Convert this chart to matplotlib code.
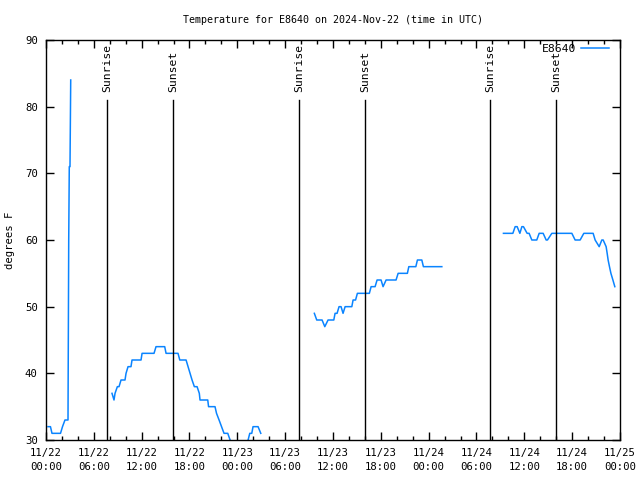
import numpy as np
import pandas as pd
import matplotlib
matplotlib.use("Agg")
import matplotlib.pyplot as plt
import matplotlib.dates as mdates

plt.rcParams['font.family'] = ['DejaVu Sans Mono']
plt.rcParams['font.size'] = 7.7

# hours since 2024-11-22 00:00 UTC, temperatures in F
seg1_h = [0.25, 0.56, 0.75, 1.82, 2.07, 2.38, 2.76, 2.85, 2.92, 3.01, 3.10]
seg1_t = [32, 32, 31, 31, 32, 33, 33, 60, 71, 71, 84]

seg2_h = [8.28, 8.53, 8.66, 8.95, 9.16, 9.41, 9.91, 10.04, 10.29, 10.66, 10.79,
          11.92, 12.05, 13.55, 13.80, 14.89, 15.06, 16.56, 16.78, 17.57, 17.82,
          18.07, 18.32, 18.61, 18.95, 19.23, 19.32, 20.29, 20.39, 21.20, 21.39,
          21.71, 22.02, 22.33, 22.80, 23.09, 23.71, 24.84, 25.35, 25.56, 25.81,
          25.97, 26.60, 26.94]
seg2_t = [37, 36, 37, 38, 38, 39, 39, 40, 41, 41, 42,
          42, 43, 43, 44, 44, 43, 43, 42, 42, 41,
          40, 39, 38, 38, 37, 36, 36, 35, 35, 34,
          33, 32, 31, 31, 30, 29, 29, 30, 31, 31,
          32, 32, 31]

seg3_h = [33.66, 33.96, 34.63, 34.97, 35.38, 36.10, 36.26, 36.51, 36.76, 37.01,
          37.26, 37.52, 38.36, 38.52, 38.83, 39.06, 40.56, 40.78, 41.28, 41.53,
          42.03, 42.28, 42.66, 43.91, 44.17, 45.33, 45.51, 46.39, 46.59, 47.14,
          47.34, 49.65]
seg3_t = [49, 48, 48, 47, 48, 48, 49, 49, 50, 50,
          49, 50, 50, 51, 51, 52, 52, 53, 53, 54,
          54, 53, 54, 54, 55, 55, 56, 56, 57, 57,
          56, 56]

seg4_h = [57.38, 58.56, 58.85, 59.10, 59.44, 59.69, 59.89, 60.35, 60.60, 60.94,
          61.56, 61.86, 62.36, 62.74, 62.90, 63.45, 65.96, 66.37, 67.00, 67.46,
          68.63, 68.88, 69.39, 69.72, 69.89, 70.26, 70.39, 70.51, 70.68, 70.86,
          71.11, 71.35]
seg4_t = [61, 61, 62, 62, 61, 62, 62, 61, 61, 60,
          60, 61, 61, 60, 60, 61, 61, 60, 60, 61,
          61, 60, 59, 60, 60, 59, 58, 57, 56, 55,
          54, 53]

sun_labels = ["Sunrise", "Sunset", "Sunrise", "Sunset", "Sunrise", "Sunset"]
sun_hours = [7.65, 15.93, 31.74, 40.0, 55.7, 64.0]

base = pd.Timestamp("2024-11-22 00:00")

hours = []
temps = []
for h, t in [(seg1_h, seg1_t), (seg2_h, seg2_t), (seg3_h, seg3_t), (seg4_h, seg4_t)]:
    hours += h + [h[-1] + 0.01]
    temps += t + [np.nan]
times = base + pd.to_timedelta(hours, unit='h')

fig = plt.figure(figsize=(6.4, 4.8), dpi=100)
ax = fig.add_axes([46/640, 40/480, 574/640, 400/480])

ax.plot(times, temps, color='#0a84ff', lw=1.1, label='E8640')

for lab, h in zip(sun_labels, sun_hours):
    t = base + pd.Timedelta(hours=h)
    ax.plot([t, t], [30, 81], color='black', lw=1.0)
    ax.text(t, 82.2, lab, rotation=90, ha='center', va='bottom', fontsize=8.2)

ax.set_xlim(base, base + pd.Timedelta(days=3))
ax.set_ylim(30, 90)
ax.set_yticks(range(30, 91, 10))
ax.xaxis.set_major_locator(mdates.HourLocator(byhour=range(0, 24, 6)))
ax.xaxis.set_minor_locator(mdates.HourLocator(byhour=range(0, 24, 2)))
ax.xaxis.set_major_formatter(mdates.DateFormatter("%m/%d\n%H:%M"))
for lbl in ax.get_xticklabels():
    lbl.set_linespacing(1.45)
ax.tick_params(which='both', direction='in', top=True, right=True, width=1)
ax.tick_params(which='major', length=6, pad=6)
ax.tick_params(which='minor', length=3)
for s in ax.spines.values():
    s.set_linewidth(1)

ax.set_ylabel("degrees F", labelpad=7)
ax.set_title("Temperature for E8640 on 2024-Nov-22 (time in UTC)", pad=12, fontsize=7.2)
ax.legend(loc='upper right', bbox_to_anchor=(1 - 9/574, 1 - 2/400), frameon=False,
          handlelength=2.4, borderaxespad=0, borderpad=0.2,
          markerfirst=False, fontsize=8.2, handletextpad=0.45)

fig.savefig("out.png", dpi=100)
